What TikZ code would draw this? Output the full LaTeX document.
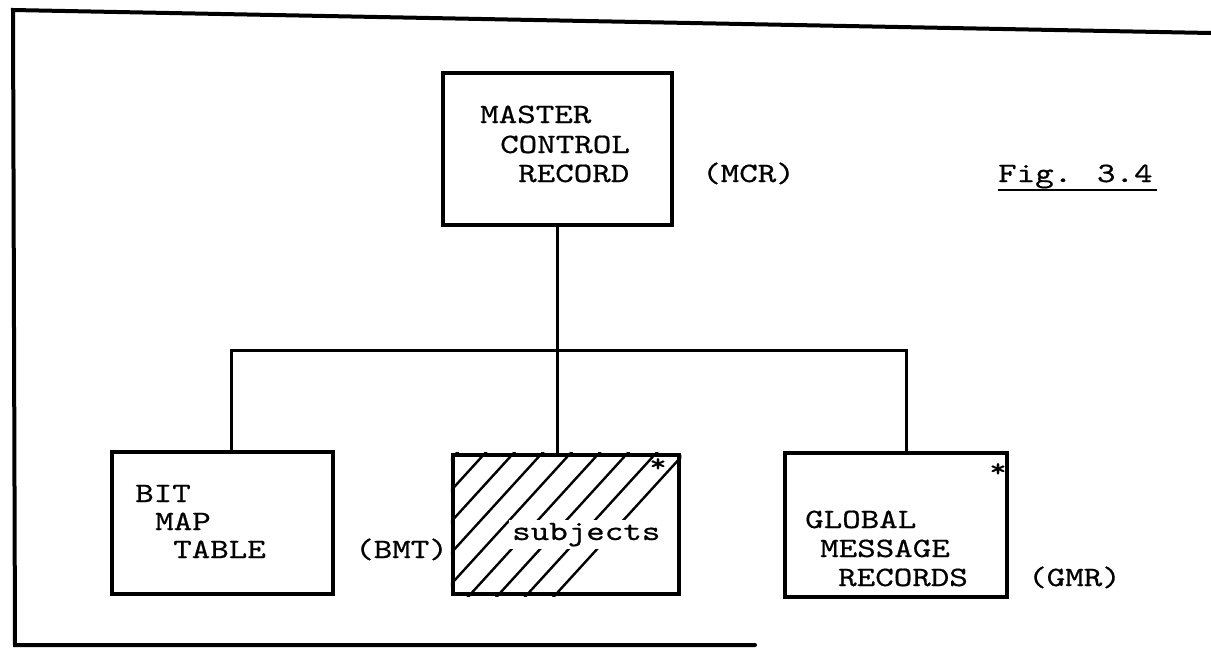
\documentclass[tikz,border=0pt]{standalone}
\usepackage{fontspec}
\newfontfamily\typewr{lmmono10-regular.otf}[FakeStretch=1.26,FakeBold=0.6]
\usetikzlibrary{positioning}

\begin{document}
\begin{tikzpicture}[x=1pt,y=-1pt]
\tikzset{
  recbox/.style={draw,line width=4.5pt,inner sep=0pt},
  link/.style={line width=3pt},
  frame/.style={line width=4pt,line cap=round},
  hatch/.style={line width=2.4pt},
  txt/.style={font=\typewr\fontsize{28}{30}\selectfont,inner sep=0pt,anchor=base west},
  starmark/.style={font=\typewr\fontsize{26}{26}\selectfont,inner sep=0pt,anchor=north}
}
\useasboundingbox (0,0) rectangle (1211,649);
% outer frame
\draw[frame] (1211,33) -- (13,10) -- (15,645) -- (755,645);
% record boxes
\node[recbox,minimum width=229pt,minimum height=152pt] (n_mcr) at (557.5,149) {};
\node[recbox,minimum width=221pt,minimum height=142pt] (n_bmt) at (222.5,523) {};
\node[recbox,minimum width=226pt,minimum height=139pt] (n_subj) at (566,524.5) {};
\node[recbox,minimum width=222pt,minimum height=144pt] (n_gmr) at (896,525) {};
% hatching of the subjects box
\begin{scope}
  \clip (n_subj.south west) rectangle (n_subj.north east);
  \foreach \k in {-9,...,7}
    \draw[hatch] ({483+28.5*\k-130},598) -- ({483+28.5*\k+4},451);
\end{scope}
\node[recbox,minimum width=226pt,minimum height=139pt] at (n_subj) {};
% texts
\node[txt] (t_mcr1) at (480,123) {MASTER};
\node[txt] (t_mcr2) at (500,153) {CONTROL};
\node[txt] (t_mcr3) at (518,182) {RECORD};
\node[txt] (l_mcr) at (702,182) {(MCR)};
\node[txt] (t_bmt1) at (135,502) {BIT};
\node[txt] (t_bmt2) at (155,530) {MAP};
\node[txt] (t_bmt3) at (173,558) {TABLE};
\node[txt] (l_bmt) at (355,558) {(BMT)};
\node[txt,fill=white,inner sep=3pt] (t_subj) at (509,540) {subjects};
\node[txt] (t_gmr1) at (805,528) {GLOBAL};
\node[txt] (t_gmr2) at (820,557) {MESSAGE};
\node[txt] (t_gmr3) at (838,586) {RECORDS};
\node[txt] (l_gmr) at (1028,586) {(GMR)};
\node[starmark] (s_subj) at (658,458) {*};
\node[starmark] (s_gmr) at (998,463) {*};
\node[txt] (fig) at (998,182) {Fig. 3.4};
\draw[line width=2pt] ([yshift=-8pt]fig.base west) -- ([yshift=-8pt,xshift=4pt]fig.base east);
% connectors
\coordinate (bus_l) at (231,350);
\coordinate (bus_r) at (906,350);
\draw[link] (n_mcr.south) -- (n_mcr.south |- n_subj.north);
\draw[link] (bus_l |- n_bmt.north) -- (bus_l) -- (bus_r) -- (bus_r |- n_gmr.north);
\end{tikzpicture}
\end{document}
